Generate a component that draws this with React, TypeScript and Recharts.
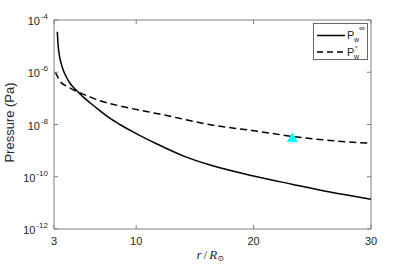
import { ComposedChart, Line, Scatter, XAxis, YAxis, ReferenceArea, Legend, Label } from 'recharts';

// r / R_sun sample positions and wind pressures (Pa)
const rInf = [3.28, 3.35, 3.43, 3.6, 3.79, 4.05, 4.36, 4.7, 5.07, 5.5, 6.07, 6.9, 7.63, 8.6, 10, 12, 14, 16.3, 20, 23.25, 26.5, 30];
const pInf = [
  3.55e-5, 1.12e-5, 5.25e-6, 2.24e-6, 1.2e-6, 6.6e-7, 3.8e-7, 2.5e-7, 1.74e-7, 1.12e-7, 6.8e-8,
  3.4e-8, 1.9e-8, 1.0e-8, 4.5e-9, 1.6e-9, 6.3e-10, 2.8e-10, 1.07e-10, 5.2e-11, 2.6e-11, 1.38e-11,
];

const rStar = [3.1, 3.25, 3.5, 4.2, 5.07, 6.0, 6.92, 9, 12, 17, 20, 23.3, 26.5, 30];
const pStar = [1.0e-6, 7.6e-7, 4.6e-7, 2.75e-7, 1.74e-7, 1.17e-7, 8.1e-8, 4.7e-8, 2.5e-8, 8.7e-9, 5.8e-9, 3.5e-9, 2.45e-9, 1.9e-9];

const markR = [23.3];
const markP = [3.2e-9];

const xTicks = [3, 10, 20, 30];
const yTicks = [1e-12, 1e-10, 1e-8, 1e-6, 1e-4];

const solidData = rInf.map((r, i) => ({ r, p: pInf[i] }));
const dashedData = rStar.map((r, i) => ({ r, p: pStar[i] }));
const markData = markR.map((r, i) => ({ r, p: markP[i] }));

const W = 411;
const H = 266;
const M = { top: 20, right: 40, bottom: 0, left: 0 };
const PLOT_RIGHT = W - M.right;
const FONT = '"Liberation Sans", Arial, sans-serif';
const TXT = '#262626';
const AXIS = '#808080';

const XTick = ({ x, y, payload }: any) => {
  const axisY = y - 6;
  return (
    <g>
      <line x1={x} x2={x} y1={axisY} y2={axisY - 4} stroke={AXIS} />
      <line x1={x} x2={x} y1={M.top} y2={M.top + 4} stroke={AXIS} />
      <text x={x} y={axisY + 16} textAnchor='middle' fontSize={11} fontFamily={FONT} fill={TXT}>
        {payload.value}
      </text>
    </g>
  );
};

const YTick = ({ x, y, payload }: any) => {
  const axisX = x + 6;
  const exp = Math.round(Math.log10(payload.value));
  return (
    <g>
      <line x1={axisX} x2={axisX + 4} y1={y} y2={y} stroke={AXIS} />
      <line x1={PLOT_RIGHT} x2={PLOT_RIGHT - 4} y1={y} y2={y} stroke={AXIS} />
      <text x={x} y={y + 5} textAnchor='end' fontSize={11} fontFamily={FONT} fill={TXT}>
        10
        <tspan fontSize={8} dy={-6} dx={1}>{exp}</tspan>
      </text>
    </g>
  );
};

const Triangle = ({ cx, cy }: any) => (
  <polygon points={`${cx},${cy - 5} ${cx + 5.5},${cy + 4.5} ${cx - 5.5},${cy + 4.5}`} fill='#00ffff' />
);

const LegendBox = () => (
  <div style={{ width: 55, height: 37, border: '1px solid #666', background: '#fff', boxSizing: 'border-box' }}>
    <svg width={53} height={35} style={{ display: 'block' }}>
      <line x1={3} x2={31} y1={11.5} y2={11.5} stroke='#000' strokeWidth={1.5} />
      <text x={33} y={15} fontSize={11} fontFamily={FONT} fill={TXT}>P</text>
      <text x={40} y={17.5} fontSize={7} fontFamily={FONT} fill={TXT}>w</text>
      <text x={45} y={6.5} fontSize={8} fontFamily={FONT} fill={TXT}>∞</text>
      <line x1={3} x2={31} y1={28} y2={28} stroke='#000' strokeWidth={1.5} strokeDasharray='6 4' />
      <text x={33} y={31.5} fontSize={11} fontFamily={FONT} fill={TXT}>P</text>
      <text x={40} y={34.5} fontSize={7} fontFamily={FONT} fill={TXT}>w</text>
      <text x={41} y={25.5} fontSize={6} fontFamily={FONT} fill={TXT}>*</text>
    </svg>
  </div>
);

const XLabel = ({ viewBox }: any) => {
  const cx = viewBox.x + viewBox.width / 2;
  return (
    <text x={cx - 16} y={259} fontSize={13} fontFamily='"Liberation Serif", "DejaVu Serif", serif' fill={TXT}>
      <tspan fontStyle='italic'>r</tspan>
      <tspan dx={2}>/</tspan>
      <tspan dx={2} fontStyle='italic'>R</tspan>
      <tspan fontSize={8} dy={2}>⊙</tspan>
    </text>
  );
};

const YLabel = ({ viewBox }: any) => {
  const cy = viewBox.y + viewBox.height / 2 - 2;
  return (
    <text
      x={14}
      y={cy}
      transform={`rotate(-90, 14, ${cy})`}
      textAnchor='middle'
      fontSize={13}
      fontFamily={FONT}
      fill={TXT}
    >
      Pressure (Pa)
    </text>
  );
};

export default function App() {
  return (
    <div style={{ position: 'fixed', left: 0, top: 0, width: W, height: H, background: '#fff' }}>
      <ComposedChart width={W} height={H} margin={M}>
        <XAxis
          xAxisId={0}
          type='number'
          dataKey='r'
          domain={[3, 30]}
          ticks={xTicks}
          height={37}
          axisLine={false}
          tickLine={false}
          tickSize={0}
          tickMargin={6}
          tick={<XTick />}
          allowDataOverflow
        >
          <Label content={<XLabel />} />
        </XAxis>
        <YAxis
          yAxisId={0}
          type='number'
          scale='log'
          domain={[1e-12, 1e-4]}
          ticks={yTicks}
          width={54}
          axisLine={false}
          tickLine={false}
          tickSize={0}
          tickMargin={6}
          tick={<YTick />}
          allowDataOverflow
        >
          <Label content={<YLabel />} />
        </YAxis>
        <ReferenceArea x1={3} x2={30} y1={1e-12} y2={1e-4} fill='none' stroke={AXIS} strokeWidth={1} />
        <Line
          data={solidData}
          dataKey='p'
          type='monotone'
          stroke='#000'
          strokeWidth={1.5}
          dot={false}
          isAnimationActive={false}
        />
        <Line
          data={dashedData}
          dataKey='p'
          type='monotone'
          stroke='#000'
          strokeWidth={1.5}
          strokeDasharray='7 4'
          dot={false}
          isAnimationActive={false}
        />
        <Scatter data={markData} dataKey='p' shape={<Triangle />} isAnimationActive={false} />
        <Legend
          layout='horizontal'
          verticalAlign='middle'
          align='center'
          wrapperStyle={{ top: 23, left: 313, width: 55, height: 37 }}
          content={<LegendBox />}
        />
      </ComposedChart>
    </div>
  );
}
